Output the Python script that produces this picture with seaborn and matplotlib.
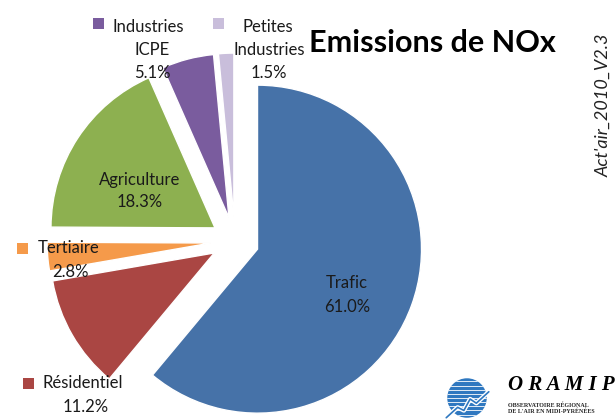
import matplotlib
matplotlib.use("Agg")
import numpy as np
import matplotlib.pyplot as plt
from matplotlib.patches import Rectangle, Circle
import seaborn as sns

# NOx emissions by sector (%)
categories = ["Trafic", "Résidentiel", "Tertiaire", "Agriculture",
              "Industries ICPE", "Petites Industries"]
shares = [61.0, 11.2, 2.8, 18.3, 5.1, 1.5]
colors = ["#4672A8", "#AA4643", "#F59A4A", "#8DB050", "#7A5C9E", "#C9BEDB"]

title = "Emissions de NOx"
version_tag = "Act'air_2010_V2.3"
logo_name = "O R A M I P"
logo_lines = ["OBSERVATOIRE RÉGIONAL", "DE L'AIR EN MIDI-PYRÉNÉES"]

sns.set_theme(style="white")
plt.rcParams["font.family"] = ["Lato", "DejaVu Sans"]

W, H = 615, 419
R_PX = 164           # pie radius in pixels
CX, CY = 235, 241    # pie centre, pixels from top-left

fig = plt.figure(figsize=(W / 100, H / 100), dpi=100)
fig.patch.set_facecolor("white")
ax = fig.add_axes([0, 0, 1, 1])
wedges, _ = ax.pie(shares, colors=colors, startangle=90, counterclock=False,
                   explode=[0.146] * len(shares), radius=1,
                   wedgeprops=dict(edgecolor="white", linewidth=1.0))
ax.set_xlim(-CX / R_PX, (W - CX) / R_PX)
ax.set_ylim(-(H - CY) / R_PX, CY / R_PX)
ax.set_aspect("equal")
ax.axis("off")


def fx(x):
    return x / W


def fy(y):
    return 1 - y / H


TXT = "#1a1a1a"
LFS = 12


def key_box(x, y, color, size=11):
    fig.add_artist(Rectangle((fx(x), fy(y + size / 2)), size / W, size / H,
                             transform=fig.transFigure, facecolor=color,
                             edgecolor="none"))


def value_text(v):
    return f"{v:.1f}%"


# data labels: key box, first line position, centre x and ys of further lines
label_layout = {
    "Trafic": dict(key=None, first=None, cx=347, ys=[283, 307]),
    "Agriculture": dict(key=None, first=None, cx=140, ys=[180, 202]),
    "Tertiaire": dict(key=(17, 249), first=(38, 248), cx=70, ys=[272]),
    "Résidentiel": dict(key=(23, 383), first=(43, 383), cx=86, ys=[407]),
    "Industries ICPE": dict(key=(93, 24), first=(113, 27), cx=152, ys=[50, 73]),
    "Petites Industries": dict(key=(213, 24), first=(243, 27), cx=269, ys=[50, 73]),
}

for name, val, col in zip(categories, shares, colors):
    lay = label_layout[name]
    words = name.split(" ")
    if lay["key"] is None:
        lines = [name, value_text(val)]
        for line, y in zip(lines, lay["ys"]):
            fig.text(fx(lay["cx"]), fy(y), line, ha="center", va="center",
                     fontsize=LFS, color=TXT)
    else:
        key_box(lay["key"][0], lay["key"][1], col)
        fig.text(fx(lay["first"][0]), fy(lay["first"][1]), words[0],
                 ha="left", va="center", fontsize=LFS, color=TXT)
        rest = words[1:] + [value_text(val)]
        for line, y in zip(rest, lay["ys"]):
            fig.text(fx(lay["cx"]), fy(y), line, ha="center", va="center",
                     fontsize=LFS, color=TXT)

fig.text(fx(432), fy(43), title, ha="center", va="center",
         fontsize=22, fontweight="bold", color="black")
fig.text(fx(603), fy(105), version_tag, ha="center", va="center",
         rotation=90, fontsize=13, style="italic", color="#222222")

# logo
lax = fig.add_axes([fx(440), fy(421), 54 / W, 46 / H])
lax.set_xlim(-1.3, 1.3)
lax.set_ylim(-1.1, 1.1)
lax.set_aspect("equal")
lax.axis("off")
disc = Circle((0, 0), 0.95, facecolor="#2F78C0", edgecolor="none")
lax.add_patch(disc)
for yy in np.linspace(-0.8, 0.8, 9):
    ln, = lax.plot([-1, 1], [yy, yy], color="white", lw=0.6)
    ln.set_clip_path(disc)
lax.plot([-1.0, -0.45, -0.15, 0.15, 0.45, 1.05],
         [-0.95, -0.45, -0.6, -0.05, -0.25, 0.3],
         color="white", lw=3.2, solid_capstyle="butt")
lax.plot([-1.0, -0.45, -0.15, 0.15, 0.45, 1.05],
         [-0.95, -0.45, -0.6, -0.05, -0.25, 0.3],
         color="#2F78C0", lw=1.2)

fig.text(fx(508), fy(385), logo_name, ha="left", va="center",
         fontsize=15, fontweight="bold", style="italic",
         family=["Liberation Serif", "DejaVu Serif"], color="black")
for line, y in zip(logo_lines, [405, 411]):
    fig.text(fx(508), fy(y), line, ha="left", va="center", fontsize=4.3,
             fontweight="bold", family=["Liberation Serif", "DejaVu Serif"],
             color="#222222")

fig.savefig("out.png", dpi=100, facecolor="white")
